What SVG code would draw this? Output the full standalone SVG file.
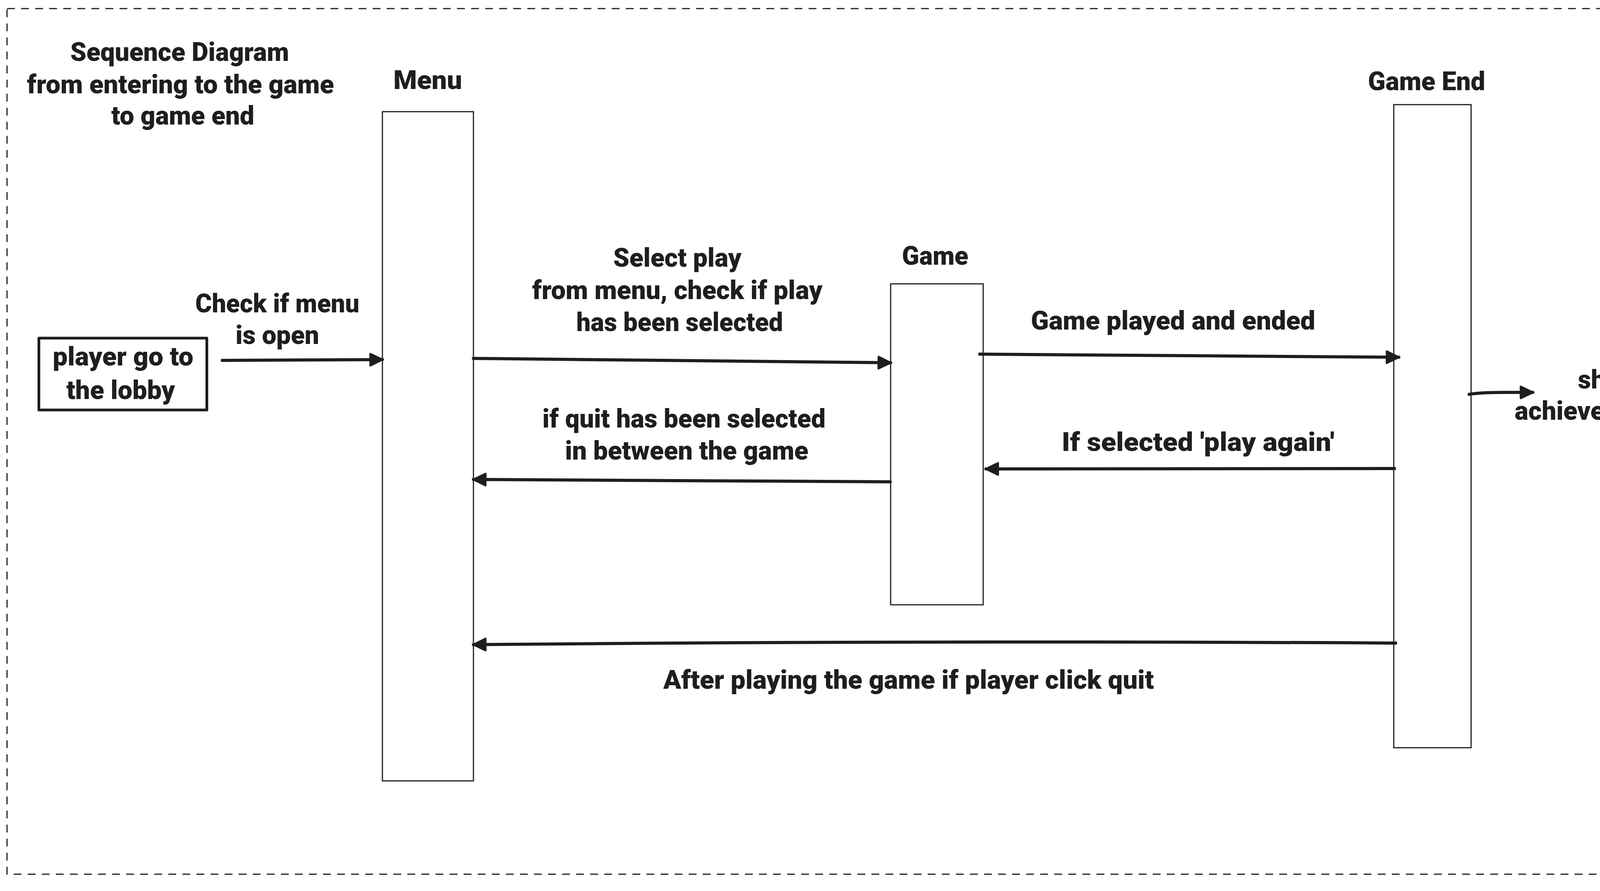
<svg xmlns="http://www.w3.org/2000/svg" width="4687" height="2282" viewBox="0 0 4687 2282">
  <style>
    .bg { fill: #ffffff; }
    .frame { fill: none; stroke: #1e1e1e; stroke-width: 3; stroke-dasharray: 20 16; }
    .life { fill: #ffffff; stroke: #1e1e1e; stroke-width: 3; }
    .box { fill: #ffffff; stroke: #1e1e1e; stroke-width: 7; stroke-linejoin: round; }
    .msg { fill: none; stroke: #1e1e1e; stroke-width: 8; stroke-linecap: round; marker-end: url(#arrow); }
    .t { font-family: Roboto, Inter, Lato, "DejaVu Sans", sans-serif; font-weight: 900; font-size: 66px; fill: #1e1e1e; text-anchor: middle; }
  </style>
  <defs>
    <marker id="arrow" markerUnits="userSpaceOnUse" viewBox="0 0 38 36" refX="35" refY="18" markerWidth="38" markerHeight="36" orient="auto">
      <path d="M4,3 L35,18 L4,33 Z" fill="#1e1e1e" stroke="#1e1e1e" stroke-width="5" stroke-linejoin="round"/>
    </marker>
  </defs>

  <rect class="bg" x="0" y="0" width="4687" height="2282"/>
  <rect id="frame" class="frame" x="18" y="22" width="4652" height="2217"/>

  <g id="title">
    <text class="t" x="460" y="156" textLength="560" lengthAdjust="spacingAndGlyphs">Sequence Diagram</text>
    <text class="t" x="462" y="239" textLength="786" lengthAdjust="spacingAndGlyphs">from entering to the game</text>
    <text class="t" x="468" y="319" textLength="366" lengthAdjust="spacingAndGlyphs">to game end</text>
  </g>

  <g id="node-player">
    <rect class="box" x="99.5" y="866" width="430" height="184"/>
    <text class="t" x="315" y="936" textLength="360" lengthAdjust="spacingAndGlyphs">player go to</text>
    <text class="t" x="309" y="1022" textLength="278" lengthAdjust="spacingAndGlyphs">the lobby</text>
  </g>

  <g id="node-menu">
    <rect class="life" x="979" y="286" width="233" height="1714"/>
    <text class="t" x="1095" y="228" textLength="176" lengthAdjust="spacingAndGlyphs">Menu</text>
  </g>

  <g id="node-game">
    <rect class="life" x="2280" y="727" width="237" height="822"/>
    <text class="t" x="2394" y="678" textLength="170" lengthAdjust="spacingAndGlyphs">Game</text>
  </g>

  <g id="node-gameend">
    <rect class="life" x="3568" y="268" width="198" height="1647"/>
    <text class="t" x="3652" y="231" textLength="300" lengthAdjust="spacingAndGlyphs">Game End</text>
  </g>

  <g id="connectors">
    <g id="edge-lobby-menu">
      <path class="msg" d="M569,923 L979,921"/>
      <text class="t" x="710" y="800" textLength="420" lengthAdjust="spacingAndGlyphs">Check if menu</text>
      <text class="t" x="710" y="881" textLength="214" lengthAdjust="spacingAndGlyphs">is open</text>
    </g>
    <g id="edge-menu-game">
      <path class="msg" d="M1212,918 L2280,929"/>
      <text class="t" x="1734" y="683" textLength="328" lengthAdjust="spacingAndGlyphs">Select play</text>
      <text class="t" x="1734" y="766" textLength="743" lengthAdjust="spacingAndGlyphs">from menu, check if play</text>
      <text class="t" x="1740" y="848" textLength="529" lengthAdjust="spacingAndGlyphs">has been selected</text>
    </g>
    <g id="edge-game-gameend">
      <path class="msg" d="M2508,907 L3581,915"/>
      <text class="t" x="3003" y="844" textLength="728" lengthAdjust="spacingAndGlyphs">Game played and ended</text>
    </g>
    <g id="edge-gameend-game">
      <path class="msg" d="M3570,1200 L2524,1201"/>
      <text class="t" x="3067" y="1155" textLength="698" lengthAdjust="spacingAndGlyphs">If selected 'play again'</text>
    </g>
    <g id="edge-game-menu">
      <path class="msg" d="M2279,1234 L1212,1228"/>
      <text class="t" x="1751" y="1095" textLength="725" lengthAdjust="spacingAndGlyphs">if quit has been selected</text>
      <text class="t" x="1758" y="1177" textLength="623" lengthAdjust="spacingAndGlyphs">in between the game</text>
    </g>
    <g id="edge-gameend-menu">
      <path class="msg" d="M3573,1647 Q2400,1640 1212,1651"/>
      <text class="t" x="2326" y="1764" textLength="1256" lengthAdjust="spacingAndGlyphs">After playing the game if player click quit</text>
    </g>
    <g id="edge-gameend-achievement">
      <path class="msg" d="M3761,1010 Q3790,1005 3850,1005 L3924,1005"/>
      <text class="t" x="4172" y="995" textLength="265" lengthAdjust="spacingAndGlyphs">show the</text>
      <text class="t" x="4178" y="1075" textLength="601" lengthAdjust="spacingAndGlyphs">achievement screen</text>
    </g>
  </g>
</svg>
